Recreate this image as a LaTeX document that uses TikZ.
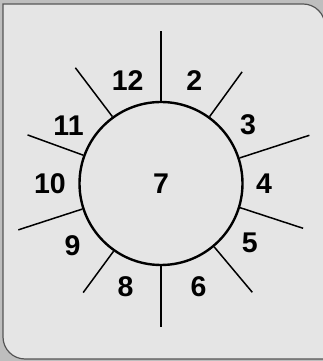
\documentclass[tikz,border=0pt]{standalone}
\usepackage{fontspec}
\setmainfont{Liberation Sans}
\definecolor{outergray}{HTML}{BEBEBE}
\definecolor{panelgray}{HTML}{E5E5E5}
\definecolor{rimgray}{HTML}{555555}
\begin{document}
\begin{tikzpicture}[x=1pt,y=1pt,
  ray/.style={line width=1.5pt},
  num/.style={font=\fontsize{28.5}{30}\selectfont\bfseries}]
\fill[outergray] (0,0) rectangle (323,361);
\useasboundingbox (0,0) rectangle (323,361);
% panel
\filldraw[fill=panelgray,draw=rimgray,line width=1.2pt]
  (3,357) -- (303,357) arc (90:0:22) -- (325,2) -- (25,2) arc (270:180:22) -- cycle;
% dial
\node[circle,draw,line width=2.4pt,minimum size=163pt,num] (dial) at (161,177.5) {7};
% rays
\foreach \a/\l in {90/152,54/138,18/156,-17.5/149,-50/142,-90/144,-125.5/134,-162/150,160/142,126.5/144}
  \draw[ray] (dial.\a) -- ([shift={(\a:\l)}]dial.center);
% numbers
\foreach \a/\r/\t in {108/108/12,72/108/2,34/105/3,0/103/4,-34/107/5,-70/110/6,-109/109/8,-145/108/9,180/111/10,148/109/11}
  \node[num] (n\t) at ([shift={(\a:\r)}]dial.center) {\t};
\end{tikzpicture}
\end{document}
